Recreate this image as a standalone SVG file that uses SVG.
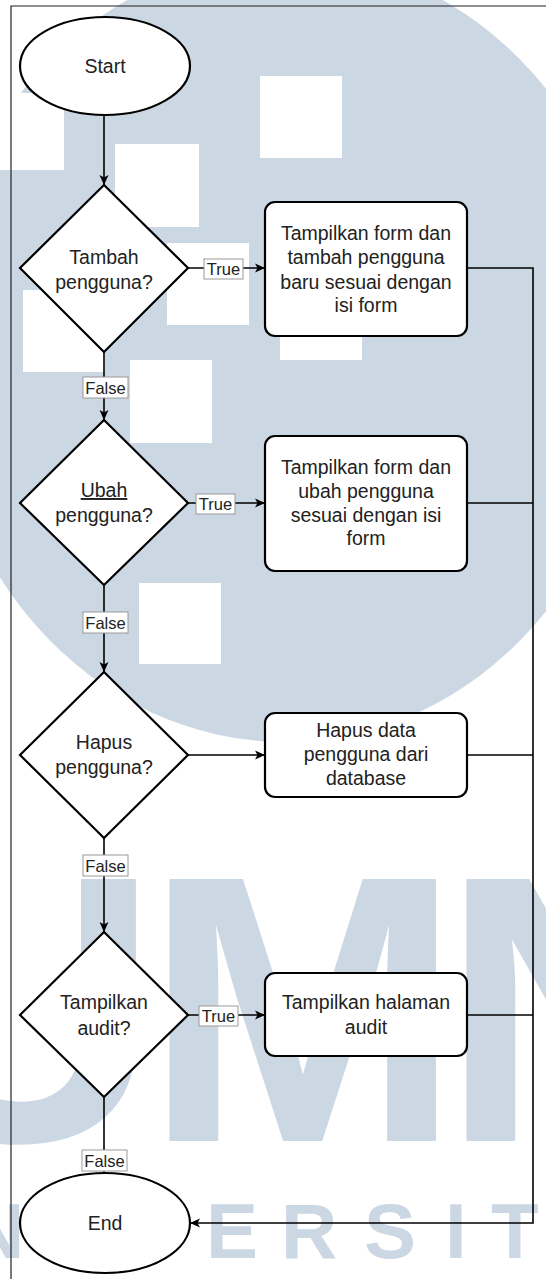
<svg xmlns="http://www.w3.org/2000/svg" width="546" height="1279" viewBox="0 0 546 1279">
  <style>
    .node { fill: #ffffff; stroke: #000000; stroke-width: 2.2; }
    .txt { font-family: "Liberation Sans", Arial, sans-serif; font-size: 19.5px; fill: #222222; text-anchor: middle; }
    .edge { fill: none; stroke: #000000; stroke-width: 1.6; }
    .lbox { fill: #ffffff; stroke: #9a9a9a; stroke-width: 1; }
    .ltxt { font-family: "Liberation Sans", Arial, sans-serif; font-size: 16.5px; fill: #222222; text-anchor: middle; }
    .wm { fill: #cbd7e3; }
    .wmtxt { font-family: "Liberation Sans", Arial, sans-serif; font-weight: bold; fill: #cbd7e3; }
  </style>
  <defs>
    <marker id="arrow" viewBox="0 0 12 12" refX="11" refY="6" markerWidth="12" markerHeight="12" markerUnits="userSpaceOnUse" orient="auto">
      <path d="M1,1.5 L11,6 L1,10.5 L3.5,6 Z" fill="#000000"/>
    </marker>
  </defs>

  <rect width="546" height="1279" fill="#ffffff"/>

  <!-- background emblem -->
  <g id="emblem">
    <ellipse class="wm" cx="285" cy="350" rx="350" ry="392"/>
    <g fill="#ffffff">
      <rect x="260" y="76" width="82" height="82"/>
      <rect x="115" y="144" width="84" height="83"/>
      <rect x="167" y="243" width="82" height="82"/>
      <rect x="280" y="278" width="82" height="82"/>
      <rect x="23" y="290" width="82" height="82"/>
      <rect x="-18" y="93" width="82" height="77"/>
      <rect x="130" y="360" width="82" height="83"/>
      <rect x="139" y="583" width="82" height="81"/>
    </g>
    <text class="wmtxt" font-size="381" y="1141"><tspan x="-116">U</tspan><tspan x="144">M</tspan><tspan x="441">N</tspan></text>
    <text class="wmtxt" font-size="78" y="1258"><tspan x="-32">N</tspan><tspan x="206">E</tspan><tspan x="281">R</tspan><tspan x="364">S</tspan><tspan x="445">I</tspan><tspan x="491">T</tspan></text>
  </g>

  <!-- page frame -->
  <path d="M11,1279 V6 H546" fill="none" stroke="#222222" stroke-width="1.2"/>

  <!-- connectors -->
  <g id="connectors">
    <path class="edge" d="M104,116 V185" marker-end="url(#arrow)"/>
    <path class="edge" d="M104,352 V420" marker-end="url(#arrow)"/>
    <path class="edge" d="M104,585 V672" marker-end="url(#arrow)"/>
    <path class="edge" d="M104,838 V932" marker-end="url(#arrow)"/>
    <path class="edge" d="M104,1097 V1173"/>
    <path class="edge" d="M188,268 H265" marker-end="url(#arrow)"/>
    <path class="edge" d="M188,503 H265" marker-end="url(#arrow)"/>
    <path class="edge" d="M188,755 H265" marker-end="url(#arrow)"/>
    <path class="edge" d="M188,1015 H265" marker-end="url(#arrow)"/>
    <path class="edge" d="M467,268 H533 V1223 H190" marker-end="url(#arrow)"/>
    <path class="edge" d="M467,503 H533"/>
    <path class="edge" d="M467,755 H533"/>
    <path class="edge" d="M467,1015 H533"/>
  </g>

  <!-- start -->
  <g id="start">
    <ellipse class="node" cx="105" cy="66" rx="85" ry="49"/>
    <text class="txt" x="105" y="73">Start</text>
  </g>

  <!-- decision: add user -->
  <g id="dec-tambah">
    <polygon class="node" points="104,185 188,268 104,352 20,268"/>
    <text class="txt" x="104" y="264">Tambah</text>
    <text class="txt" x="104" y="289">pengguna?</text>
  </g>
  <g id="act-tambah">
    <rect class="node" x="265" y="202" width="202" height="134" rx="10"/>
    <text class="txt" x="366" y="240">Tampilkan form dan</text>
    <text class="txt" x="366" y="264">tambah pengguna</text>
    <text class="txt" x="366" y="289">baru sesuai dengan</text>
    <text class="txt" x="366" y="312">isi form</text>
  </g>

  <!-- decision: edit user -->
  <g id="dec-ubah">
    <polygon class="node" points="104,420 188,503 104,585 20,503"/>
    <text class="txt" x="104" y="497" text-decoration="underline">Ubah</text>
    <text class="txt" x="104" y="522">pengguna?</text>
  </g>
  <g id="act-ubah">
    <rect class="node" x="265" y="436" width="202" height="135" rx="10"/>
    <text class="txt" x="366" y="474">Tampilkan form dan</text>
    <text class="txt" x="366" y="498">ubah pengguna</text>
    <text class="txt" x="366" y="522">sesuai dengan isi</text>
    <text class="txt" x="366" y="545">form</text>
  </g>

  <!-- decision: delete user -->
  <g id="dec-hapus">
    <polygon class="node" points="104,672 188,755 104,838 20,755"/>
    <text class="txt" x="104" y="749">Hapus</text>
    <text class="txt" x="104" y="774">pengguna?</text>
  </g>
  <g id="act-hapus">
    <rect class="node" x="265" y="713" width="202" height="84" rx="10"/>
    <text class="txt" x="366" y="737">Hapus data</text>
    <text class="txt" x="366" y="761">pengguna dari</text>
    <text class="txt" x="366" y="785">database</text>
  </g>

  <!-- decision: audit -->
  <g id="dec-audit">
    <polygon class="node" points="104,932 188,1015 104,1097 20,1015"/>
    <text class="txt" x="104" y="1009">Tampilkan</text>
    <text class="txt" x="104" y="1035">audit?</text>
  </g>
  <g id="act-audit">
    <rect class="node" x="265" y="973" width="202" height="83" rx="10"/>
    <text class="txt" x="366" y="1009">Tampilkan halaman</text>
    <text class="txt" x="366" y="1034">audit</text>
  </g>

  <!-- end -->
  <g id="end">
    <ellipse class="node" cx="105" cy="1223" rx="85" ry="50"/>
    <text class="txt" x="105" y="1230">End</text>
  </g>

  <!-- edge labels -->
  <g id="edge-labels">
    <rect class="lbox" x="204" y="259" width="39" height="20"/>
    <text class="ltxt" x="223.5" y="275">True</text>
    <rect class="lbox" x="196" y="494" width="39" height="20"/>
    <text class="ltxt" x="215.5" y="510">True</text>
    <rect class="lbox" x="199" y="1006" width="39" height="20"/>
    <text class="ltxt" x="218.5" y="1022">True</text>
    <rect class="lbox" x="83" y="377" width="45" height="21"/>
    <text class="ltxt" x="105.5" y="393.5">False</text>
    <rect class="lbox" x="83" y="612" width="45" height="21"/>
    <text class="ltxt" x="105.5" y="628.5">False</text>
    <rect class="lbox" x="83" y="855" width="45" height="21"/>
    <text class="ltxt" x="105.5" y="871.5">False</text>
    <rect class="lbox" x="82" y="1150" width="45" height="21"/>
    <text class="ltxt" x="104.5" y="1166.5">False</text>
  </g>
</svg>
